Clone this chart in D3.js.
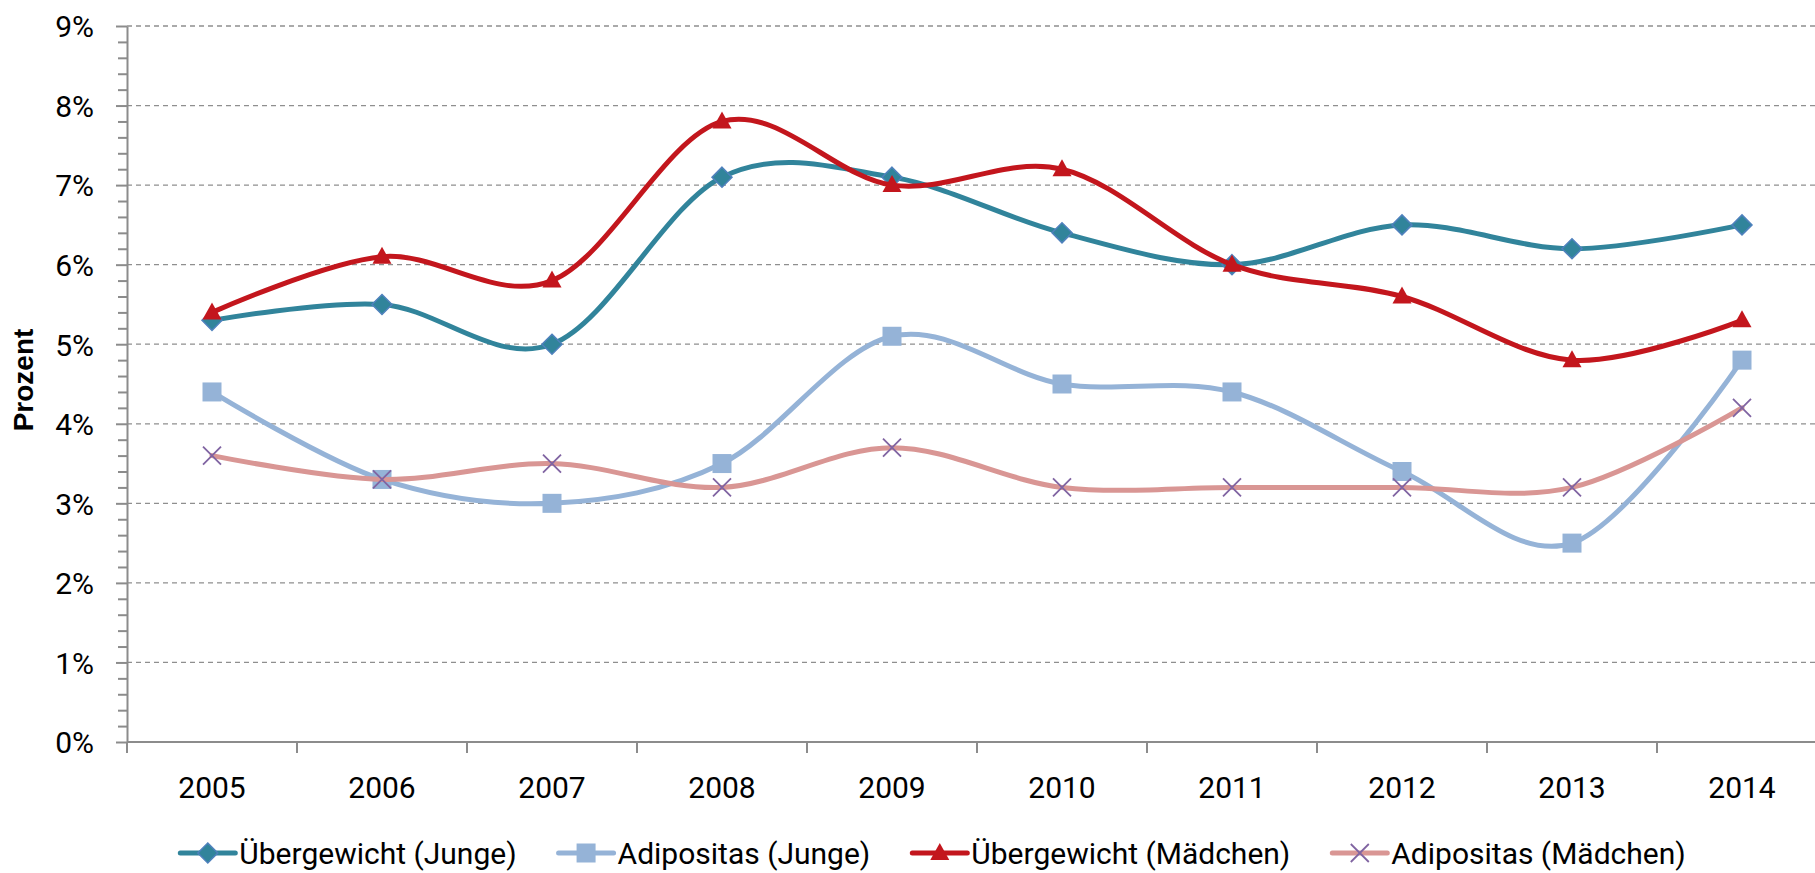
<!DOCTYPE html>
<html>
<head>
<meta charset="utf-8">
<script src="https://cdn.jsdelivr.net/npm/d3@7"></script>
<style>
	html, body { margin: 0; padding: 0; background: #fff; overflow: hidden; }
	svg { display: block; font-family: Roboto, 'DejaVu Sans', sans-serif; }
</style>
</head>
<body>
<svg id="chart" width="1815" height="873"></svg>
<script>
const years = ['2005', '2006', '2007', '2008', '2009', '2010', '2011', '2012', '2013', '2014']
const uebergewichtJunge = [5.3, 5.5, 5.0, 7.1, 7.1, 6.4, 6.0, 6.5, 6.2, 6.5]
const adipositasJunge = [4.4, 3.3, 3.0, 3.5, 5.1, 4.5, 4.4, 3.4, 2.5, 4.8]
const uebergewichtMaedchen = [5.4, 6.1, 5.8, 7.8, 7.0, 7.2, 6.0, 5.6, 4.8, 5.3]
const adipositasMaedchen = [3.6, 3.3, 3.5, 3.2, 3.7, 3.2, 3.2, 3.2, 3.2, 4.2]
const yTicks = [0, 1, 2, 3, 4, 5, 6, 7, 8, 9]
const seriesNames = ['Übergewicht (Junge)', 'Adipositas (Junge)', 'Übergewicht (Mädchen)', 'Adipositas (Mädchen)']

const series = [
	{name: seriesNames[0], values: uebergewichtJunge, color: '#31849b', marker: 'diamond'},
	{name: seriesNames[1], values: adipositasJunge, color: '#95b3d7', marker: 'square'},
	{name: seriesNames[2], values: uebergewichtMaedchen, color: '#c3161d', marker: 'triangle'},
	{name: seriesNames[3], values: adipositasMaedchen, color: '#d99694', marker: 'x'}
]

const svg = d3.select('#chart')
const plotLeft = 127, plotTop = 26, plotBottom = 742, plotRight = 1827

const x = d3.scaleBand().domain(years).range([plotLeft, plotRight])
const y = d3.scaleLinear().domain([0, 9]).range([plotBottom, plotTop])
const axisColor = '#8c8c8c'

// grid
svg.append('g')
	.selectAll('line')
	.data(yTicks.filter(d => d > 0))
	.enter()
	.append('line')
	.attr('x1', plotLeft).attr('x2', 1815)
	.attr('y1', d => y(d)).attr('y2', d => y(d))
	.style('stroke', '#8f8f8f')
	.style('stroke-width', 1.3)
	.style('stroke-dasharray', '5,4')

// y axis with minor ticks
const minor = d3.range(0, 9.001, 0.2).filter(d => Math.abs(d - Math.round(d)) > 0.01)
svg.append('g')
	.attr('transform', `translate(${plotLeft},0)`)
	.call(d3.axisLeft(y).tickValues(minor).tickSize(9).tickFormat(''))
	.call(g => g.select('.domain').remove())
	.call(g => g.selectAll('line').style('stroke', axisColor).style('stroke-width', 2))

const yAxis = svg.append('g')
	.attr('transform', `translate(${plotLeft},0)`)
	.call(d3.axisLeft(y).tickValues(yTicks).tickSize(11).tickSizeOuter(0).tickPadding(22).tickFormat(d => d + '%'))
yAxis.attr('font-family', null).attr('font-size', null)
yAxis.select('.domain').style('stroke', axisColor).style('stroke-width', 2)
yAxis.selectAll('line').style('stroke', axisColor).style('stroke-width', 2)
yAxis.selectAll('text')
	.style('font-size', '30px')
	.style('fill', '#000')
	.attr('dy', '0.36em')

// x axis, ticks between categories
const xAxis = svg.append('g').attr('transform', `translate(0,${plotBottom})`)
xAxis.append('line')
	.attr('x1', plotLeft).attr('x2', plotRight)
	.style('stroke', axisColor).style('stroke-width', 2)
xAxis.selectAll('.tick')
	.data(years)
	.enter()
	.append('line')
	.attr('class', 'tick')
	.attr('x1', d => x(d)).attr('x2', d => x(d))
	.attr('y1', 0).attr('y2', 11)
	.style('stroke', axisColor).style('stroke-width', 2)
xAxis.selectAll('text')
	.data(years)
	.enter()
	.append('text')
	.attr('x', d => x(d) + x.bandwidth() / 2)
	.attr('y', 56)
	.attr('text-anchor', 'middle')
	.style('font-size', '30px')
	.text(d => d)

// axis title
svg.append('text')
	.attr('transform', `translate(33,${(plotTop + plotBottom) / 2 - 4}) rotate(-90)`)
	.attr('text-anchor', 'middle')
	.style('font-family', "'Liberation Sans', Arial, sans-serif")
	.style('font-weight', 'bold')
	.style('font-size', '28px')
	.text('Prozent')

function drawMarker(g, type, color) {
	if (type === 'diamond') {
		g.append('path').attr('d', 'M0,-10L10,0L0,10L-10,0Z')
			.style('fill', color).style('stroke', '#4f81bd').style('stroke-width', 1.5)
	} else if (type === 'square') {
		g.append('rect').attr('x', -9.5).attr('y', -9.5).attr('width', 19).attr('height', 19)
			.style('fill', color)
	} else if (type === 'triangle') {
		g.append('path').attr('d', 'M0,-10L9.5,7L-9.5,7Z').style('fill', color)
	} else {
		g.append('path').attr('d', 'M-9,-9L9,9M-9,9L9,-9')
			.style('fill', 'none').style('stroke', '#8064a2').style('stroke-width', 1.8)
	}
}

const line = d3.line()
	.x((d, i) => x(years[i]) + x.bandwidth() / 2)
	.y(d => y(d))
	.curve(d3.curveCardinal.tension(0))

series.forEach(s => {
	const g = svg.append('g')
	g.append('path')
		.datum(s.values)
		.attr('d', line)
		.style('fill', 'none')
		.style('stroke', s.color)
		.style('stroke-width', 5)
		.style('stroke-linecap', 'round')
	s.values.forEach((v, i) => {
		const m = g.append('g')
			.attr('transform', `translate(${x(years[i]) + x.bandwidth() / 2},${y(v)})`)
		drawMarker(m, s.marker, s.color)
	})
})

// legend
const legend = svg.append('g')
let lx = 0
series.forEach(s => {
	const item = legend.append('g').attr('transform', `translate(${lx},853)`)
	item.append('line')
		.attr('x1', 0).attr('x2', 55)
		.style('stroke', s.color).style('stroke-width', 5).style('stroke-linecap', 'round')
	drawMarker(item.append('g').attr('transform', 'translate(27.5,0)'), s.marker, s.color)
	const t = item.append('text')
		.attr('x', 59).attr('dy', '0.36em')
		.style('font-size', '30px')
		.text(s.name)
	lx += 59 + t.node().getComputedTextLength() + 42
})
const legendWidth = lx - 42
legend.attr('transform', `translate(${933 - legendWidth / 2},0)`)
</script>
</body>
</html>
